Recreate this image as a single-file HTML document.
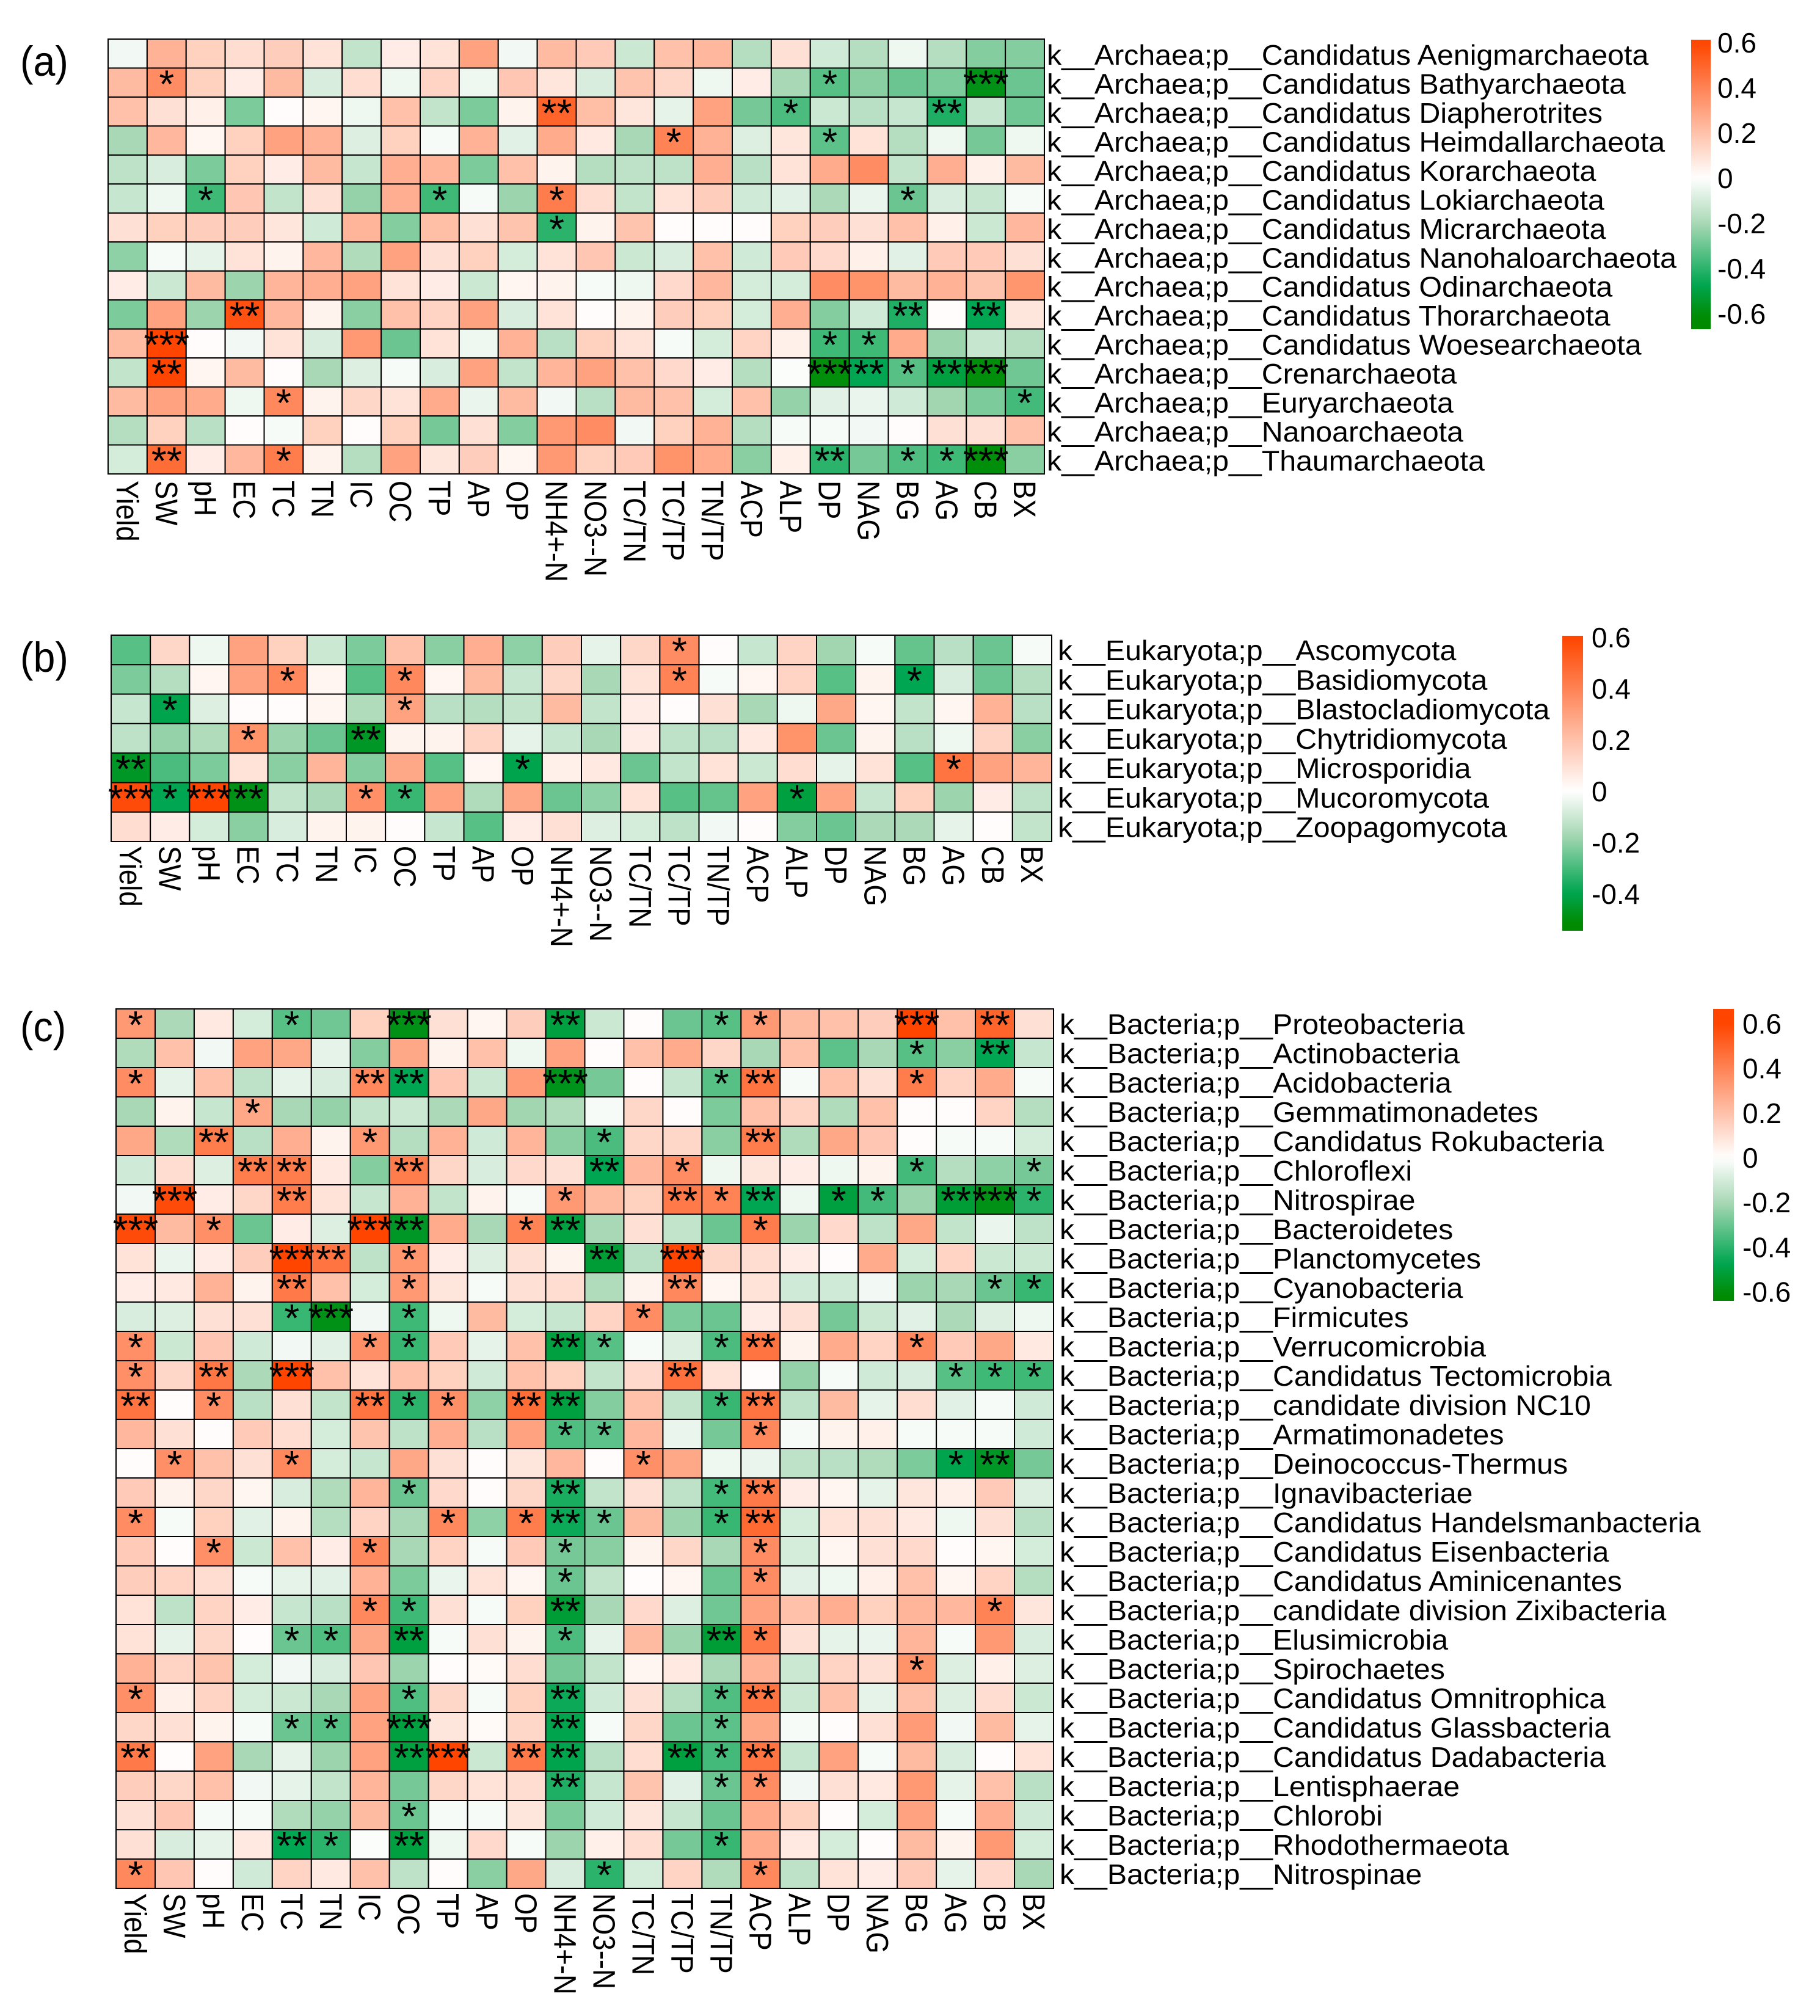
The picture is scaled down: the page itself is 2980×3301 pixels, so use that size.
<!DOCTYPE html>
<html lang="en">
<head>
<meta charset="utf-8">
<title>Correlation heatmaps of Archaea, Eukaryota and Bacteria phyla with soil variables</title>
<style>
html,body{margin:0;padding:0;background:#fff;}
body{width:2980px;height:3301px;overflow:hidden;}
svg{display:block;}
text{font-family:"Liberation Sans",Arial,sans-serif;fill:#000;}
</style>
</head>
<body>
<svg id="chart" xmlns="http://www.w3.org/2000/svg" width="2980" height="3301" viewBox="0 0 2980 3301">
<rect x="0" y="0" width="2980" height="3301" fill="#fff"/>
<text transform="translate(33,124) scale(1.04,1.1)" font-size="62">(a)</text>
<text transform="translate(33,1100) scale(1.04,1.1)" font-size="62">(b)</text>
<text transform="translate(33,1705) scale(1.04,1.1)" font-size="62">(c)</text>
</svg>
<script>
const variables = ["Yield","SW","pH","EC","TC","TN","IC","OC","TP","AP","OP","NH4+-N","NO3--N","TC/TN","TC/TP","TN/TP","ACP","ALP","DP","NAG","BG","AG","CB","BX"];

const archaeaTaxa = [
"k__Archaea;p__Candidatus Aenigmarchaeota","k__Archaea;p__Candidatus Bathyarchaeota","k__Archaea;p__Candidatus Diapherotrites","k__Archaea;p__Candidatus Heimdallarchaeota","k__Archaea;p__Candidatus Korarchaeota","k__Archaea;p__Candidatus Lokiarchaeota","k__Archaea;p__Candidatus Micrarchaeota","k__Archaea;p__Candidatus Nanohaloarchaeota","k__Archaea;p__Candidatus Odinarchaeota","k__Archaea;p__Candidatus Thorarchaeota","k__Archaea;p__Candidatus Woesearchaeota","k__Archaea;p__Crenarchaeota","k__Archaea;p__Euryarchaeota","k__Archaea;p__Nanoarchaeota","k__Archaea;p__Thaumarchaeota"];

const archaeaValues = [
[-.03,.25,.15,.11,.16,.09,-.14,.06,.09,.3,-.03,.22,.17,-.12,.2,.23,-.17,.1,-.11,-.17,-.04,-.17,-.26,-.26],
[.22,.37,.15,.06,.22,-.09,.11,-.04,.14,-.04,.18,.08,-.09,.19,.13,-.04,.06,-.2,-.33,-.25,-.3,-.27,-.58,-.3],
[.2,.1,.05,-.27,.01,.03,-.04,.2,-.14,-.27,.04,.5,.21,.08,-.06,.3,-.28,-.35,-.12,-.16,-.13,-.42,-.13,-.29],
[-.2,.23,.03,.15,.3,.25,-.08,.15,-.02,.25,-.07,.27,.07,-.2,.4,.25,-.08,.08,-.32,.09,-.17,-.04,-.28,-.04],
[-.15,-.09,-.27,.15,.06,.22,-.13,.26,.24,-.27,.2,.04,-.17,-.15,-.15,.26,-.16,.09,.27,.37,-.14,.26,.05,.22],
[-.13,-.04,-.37,.18,-.14,.1,-.23,.26,-.37,-.02,-.22,.42,.11,-.14,.09,.16,-.11,-.07,-.19,-.05,-.3,-.09,-.13,-.02],
[.1,.15,.16,.16,.08,-.11,.24,-.26,.21,.1,.19,-.4,.04,.19,.01,.01,.01,.15,.16,.1,.2,.05,-.12,.23],
[-.24,-.02,-.06,.09,.04,.23,-.18,.3,.1,.15,-.1,.09,.18,-.12,-.09,.2,-.11,.17,.12,.05,-.07,.17,.17,.1],
[.06,-.12,.22,-.22,.24,.26,.3,.09,.06,-.12,.03,.04,-.02,-.04,.12,.23,-.1,-.1,.37,.35,.22,.25,.19,.34],
[-.27,.3,-.22,.56,.23,.04,-.25,.2,.14,.3,-.09,.09,.01,.04,.16,.15,-.1,.26,-.26,-.11,-.42,.01,-.47,.08],
[.22,.6,.01,-.03,.09,-.09,.33,-.3,.09,-.04,.25,-.16,.15,.09,-.02,-.1,.14,.05,-.37,-.37,.27,-.22,-.13,-.17],
[-.14,.6,.03,.22,.01,-.2,-.08,-.02,-.09,.3,-.14,.24,.3,.2,.12,.06,-.17,-.01,-.6,-.47,-.33,-.5,-.6,-.29],
[.22,.3,.27,-.04,.38,.04,.13,.09,.27,-.05,.22,-.03,-.16,.22,.2,-.1,.2,-.23,-.07,-.05,-.11,-.21,-.27,-.36],
[-.17,.15,-.16,.01,-.02,.15,.01,.15,-.28,.1,-.26,.33,.37,-.03,.15,.25,-.17,-.02,-.02,-.03,.01,.1,.1,.2],
[-.1,.47,.06,.23,.42,.04,-.17,.3,.08,.16,.03,.33,.15,.17,.35,.27,-.25,.05,-.4,-.28,-.34,-.37,-.6,-.25]];

const archaeaStars = [[1,1,1],[1,18,1],[1,22,3],[2,11,2],[2,17,1],[2,21,2],[3,14,1],[3,18,1],[5,2,1],[5,8,1],[5,11,1],[5,20,1],[6,11,1],[9,3,2],[9,20,2],[9,22,2],[10,1,3],[10,18,1],[10,19,1],[11,1,2],[11,18,3],[11,19,2],[11,20,1],[11,21,2],[11,22,3],[12,4,1],[12,23,1],[14,1,2],[14,4,1],[14,18,2],[14,20,1],[14,21,1],[14,22,3]];

const eukaryotaTaxa = ["k__Eukaryota;p__Ascomycota","k__Eukaryota;p__Basidiomycota","k__Eukaryota;p__Blastocladiomycota","k__Eukaryota;p__Chytridiomycota","k__Eukaryota;p__Microsporidia","k__Eukaryota;p__Mucoromycota","k__Eukaryota;p__Zoopagomycota"];

const eukaryotaValues = [
[-.33,.13,-.04,.3,.15,-.12,-.27,.2,-.25,.26,-.24,.16,-.06,.13,.37,.01,-.13,.14,-.21,-.02,-.31,-.16,-.3,-.02],
[-.27,-.17,.03,.3,.38,.03,-.33,.38,.03,.22,-.13,.13,-.2,.09,.4,-.02,.03,.14,-.33,.04,-.47,-.09,-.3,-.17],
[-.13,-.48,-.08,.01,.01,.03,-.18,.3,-.16,-.17,-.14,.22,-.14,.06,.01,.1,-.2,-.04,.28,.03,-.14,.03,.25,-.16],
[-.15,-.23,-.18,.35,-.22,-.3,-.55,.04,.04,.14,-.06,-.13,-.2,.06,-.15,-.16,.07,.35,-.3,.04,-.16,-.04,.14,-.25],
[-.55,-.35,-.27,.09,-.25,.24,-.26,.28,-.33,.03,-.48,.05,.07,-.3,-.14,.09,-.12,.11,-.06,.09,-.33,.45,.3,.24],
[.58,-.47,.6,-.58,-.14,-.19,.36,-.38,.3,-.18,.28,-.3,-.24,.09,-.33,-.31,.3,-.5,.29,-.13,.15,-.22,.06,-.15],
[.11,.06,-.1,-.25,-.09,.04,.04,.01,-.13,-.33,.06,.1,-.08,-.1,-.15,-.03,.01,-.26,-.3,-.19,-.19,-.06,.01,-.14]];

const eukaryotaStars = [[0,14,1],[1,4,1],[1,7,1],[1,14,1],[1,20,1],[2,1,1],[2,7,1],[3,3,1],[3,6,2],[4,0,2],[4,10,1],[4,21,1],[5,0,3],[5,1,1],[5,2,3],[5,3,2],[5,6,1],[5,7,1],[5,17,1]];

const bacteriaTaxa = [
"k__Bacteria;p__Proteobacteria","k__Bacteria;p__Actinobacteria","k__Bacteria;p__Acidobacteria","k__Bacteria;p__Gemmatimonadetes","k__Bacteria;p__Candidatus Rokubacteria","k__Bacteria;p__Chloroflexi","k__Bacteria;p__Nitrospirae","k__Bacteria;p__Bacteroidetes","k__Bacteria;p__Planctomycetes","k__Bacteria;p__Cyanobacteria","k__Bacteria;p__Firmicutes","k__Bacteria;p__Verrucomicrobia","k__Bacteria;p__Candidatus Tectomicrobia","k__Bacteria;p__candidate division NC10","k__Bacteria;p__Armatimonadetes","k__Bacteria;p__Deinococcus-Thermus","k__Bacteria;p__Ignavibacteriae","k__Bacteria;p__Candidatus Handelsmanbacteria","k__Bacteria;p__Candidatus Eisenbacteria","k__Bacteria;p__Candidatus Aminicenantes","k__Bacteria;p__candidate division Zixibacteria","k__Bacteria;p__Elusimicrobia","k__Bacteria;p__Spirochaetes","k__Bacteria;p__Candidatus Omnitrophica","k__Bacteria;p__Candidatus Glassbacteria","k__Bacteria;p__Candidatus Dadabacteria","k__Bacteria;p__Lentisphaerae","k__Bacteria;p__Chlorobi","k__Bacteria;p__Rhodothermaeota","k__Bacteria;p__Nitrospinae"];

const bacteriaValues = [
[.33,-.19,.07,-.1,-.33,-.29,.15,-.58,.1,.03,.16,-.5,-.12,.01,-.3,-.33,.33,.22,.2,.16,.6,.2,.5,.1],
[-.18,.2,-.03,.3,.28,-.06,-.26,.28,.04,.2,-.04,.3,.01,.2,.27,.13,-.2,.2,-.32,-.2,-.33,-.25,-.47,-.13],
[.37,-.06,.2,-.15,-.06,-.09,.38,-.47,.18,-.12,.32,-.57,-.28,.01,-.13,-.33,.45,-.02,.2,.1,.42,.14,.27,-.02],
[-.2,.04,-.13,.28,-.2,-.23,-.14,-.12,-.19,.28,-.21,-.18,-.02,.13,.01,-.27,.2,.14,-.18,.2,.01,.01,.14,-.17],
[.28,-.18,.42,-.16,.26,.04,.33,-.17,.25,-.11,.24,-.25,-.35,.13,.13,-.25,.42,-.18,.28,.18,.01,-.02,-.02,-.1],
[-.11,.11,-.08,.42,.42,.07,-.26,.42,.13,-.09,.12,.1,-.47,.23,.37,-.04,.08,.06,-.04,.04,-.36,-.17,-.24,-.28],
[-.03,.58,.06,.13,.42,.09,-.13,.25,-.14,.04,-.02,.33,.22,.15,.43,.4,-.47,-.04,-.5,-.36,-.22,-.52,-.58,-.4],
[.58,.22,.36,-.3,.06,-.08,.6,-.55,.27,-.2,.4,-.5,-.2,.1,-.14,-.3,.42,-.22,.12,-.15,.28,-.14,-.05,-.15],
[.09,-.05,.06,.16,.6,.45,-.15,.34,.06,-.08,.1,.04,-.52,-.16,.6,.13,.11,.06,.01,.27,-.1,.14,-.12,-.12],
[.06,.07,.25,.04,.43,.2,-.1,.33,.08,-.02,.1,.11,-.18,.04,.38,.03,.09,-.11,-.11,-.03,-.22,-.2,-.3,-.38],
[-.09,-.08,.1,.1,-.38,-.58,-.03,-.37,-.04,.22,-.1,-.13,.14,.37,-.27,-.3,.06,.1,-.28,-.12,-.07,-.19,-.08,-.04],
[.36,-.12,.18,-.11,-.03,-.07,.36,-.38,.17,-.06,.2,-.5,-.33,-.02,-.08,-.35,.45,.04,.27,.14,.38,.17,.28,.07],
[.36,.13,.44,-.19,.6,.2,.09,.2,.15,-.11,.2,.15,-.14,.12,.46,.09,.01,-.23,-.02,-.11,-.09,-.33,-.37,-.37],
[.45,.01,.37,-.16,.1,-.14,.45,-.4,.36,-.24,.47,-.5,-.26,.2,-.14,-.38,.45,-.15,.22,-.06,.11,-.07,-.02,-.11],
[.23,.1,.01,.17,.11,-.1,.19,-.15,.26,-.16,.3,-.34,-.32,.23,-.05,-.28,.38,-.02,.04,.05,-.02,-.02,-.02,-.11],
[.01,.36,.2,.1,.38,-.1,-.13,.28,.1,.01,.08,.23,.01,.36,.28,-.04,-.05,-.15,-.16,-.18,-.27,-.48,-.55,-.28],
[.17,.04,.13,.03,-.09,-.18,.24,-.3,.12,.01,.13,-.43,-.14,.1,-.15,-.36,.43,.06,.03,-.06,.08,.05,.17,-.08],
[.37,-.02,.15,-.07,.04,-.17,.14,-.2,.38,-.24,.42,-.45,-.3,.22,-.22,-.38,.48,-.1,.09,.1,.07,-.04,.1,-.16],
[.17,.01,.36,-.12,.2,.06,.38,-.2,.14,-.02,.17,-.28,-.25,.04,.13,-.2,.37,-.1,.03,.1,.12,.01,.03,-.1],
[.16,.14,.11,-.02,-.06,-.07,.25,-.27,-.05,.09,.03,-.3,-.14,.01,.03,-.3,.37,-.07,-.04,.05,.2,.03,.14,-.17],
[.09,-.15,.14,.06,-.13,-.16,.38,-.37,.1,-.02,.15,-.52,-.2,.12,-.08,-.29,.3,.2,.26,.15,.24,.23,.4,.08],
[.09,-.06,.13,.01,-.3,-.34,.28,-.5,-.02,.1,.04,-.35,-.06,.22,-.22,-.52,.43,.1,-.06,-.05,.24,-.02,.33,-.09],
[.25,.14,.19,-.1,-.03,-.09,.18,-.22,.01,.02,.11,-.28,-.14,.03,.07,-.2,.25,-.12,.14,.1,.35,-.08,.05,-.08],
[.36,.05,.14,-.1,-.12,-.2,.3,-.34,.13,-.02,.15,-.45,-.11,.1,-.17,-.34,.45,-.12,.2,-.06,.2,-.08,.11,-.12],
[.13,.1,.04,-.02,-.3,-.33,.3,-.5,.08,.02,.13,-.48,-.02,.13,-.3,-.32,.28,-.02,.01,.1,.32,-.03,.22,-.06],
[.43,.01,.3,-.2,-.06,-.22,.3,-.5,.6,-.12,.43,-.48,-.16,.11,-.5,-.36,.45,-.13,.3,-.02,.22,-.09,.01,.09],
[.16,.13,.2,-.03,-.06,-.14,.24,-.28,.13,.09,.11,-.42,-.13,.19,-.07,-.3,.37,-.03,.1,.07,.33,-.06,.2,-.16],
[.1,.18,-.02,-.02,-.18,-.23,.22,-.3,-.02,-.02,.08,-.27,-.11,.08,-.13,-.3,.27,.15,.01,-.1,.3,-.02,.26,-.11],
[.1,-.09,-.06,.07,-.47,-.4,-.01,-.5,-.04,.12,-.02,-.22,.05,.11,-.28,-.38,.27,.07,-.1,.01,.22,.04,.33,-.1],
[.38,.18,.01,-.11,.14,.07,.2,-.15,.01,-.25,.28,-.09,-.4,-.1,.14,-.18,.38,-.15,.09,.06,.17,-.06,.12,-.2]];

const bacteriaStars = [[0,0,1],[0,4,1],[0,7,3],[0,11,2],[0,15,1],[0,16,1],[0,20,3],[0,22,2],[1,20,1],[1,22,2],[2,0,1],[2,6,2],[2,7,2],[2,11,3],[2,15,1],[2,16,2],[2,20,1],[3,3,1],[4,2,2],[4,6,1],[4,12,1],[4,16,2],[5,3,2],[5,4,2],[5,7,2],[5,12,2],[5,14,1],[5,20,1],[5,23,1],[6,1,3],[6,4,2],[6,11,1],[6,14,2],[6,15,1],[6,16,2],[6,18,1],[6,19,1],[6,21,2],[6,22,3],[6,23,1],[7,0,3],[7,2,1],[7,6,3],[7,7,2],[7,10,1],[7,11,2],[7,16,1],[8,4,3],[8,5,2],[8,7,1],[8,12,2],[8,14,3],[9,4,2],[9,7,1],[9,14,2],[9,22,1],[9,23,1],[10,4,1],[10,5,3],[10,7,1],[10,13,1],[11,0,1],[11,6,1],[11,7,1],[11,11,2],[11,12,1],[11,15,1],[11,16,2],[11,20,1],[12,0,1],[12,2,2],[12,4,3],[12,14,2],[12,21,1],[12,22,1],[12,23,1],[13,0,2],[13,2,1],[13,6,2],[13,7,1],[13,8,1],[13,10,2],[13,11,2],[13,15,1],[13,16,2],[14,11,1],[14,12,1],[14,16,1],[15,1,1],[15,4,1],[15,13,1],[15,21,1],[15,22,2],[16,7,1],[16,11,2],[16,15,1],[16,16,2],[17,0,1],[17,8,1],[17,10,1],[17,11,2],[17,12,1],[17,15,1],[17,16,2],[18,2,1],[18,6,1],[18,11,1],[18,16,1],[19,11,1],[19,16,1],[20,6,1],[20,7,1],[20,11,2],[20,22,1],[21,4,1],[21,5,1],[21,7,2],[21,11,1],[21,15,2],[21,16,1],[22,20,1],[23,0,1],[23,7,1],[23,11,2],[23,15,1],[23,16,2],[24,4,1],[24,5,1],[24,7,3],[24,11,2],[24,15,1],[25,0,2],[25,7,2],[25,8,3],[25,10,2],[25,11,2],[25,14,2],[25,15,1],[25,16,2],[26,11,2],[26,15,1],[26,16,1],[27,7,1],[28,4,2],[28,5,1],[28,7,2],[28,15,1],[29,0,1],[29,12,1],[29,16,1]];

const archaeaTicks = [0.6,0.4,0.2,0,-0.2,-0.4,-0.6];
const eukaryotaTicks = [0.6,0.4,0.2,0,-0.2,-0.4];
const bacteriaTicks = [0.6,0.4,0.2,0,-0.2,-0.4,-0.6];

const NS = "http://www.w3.org/2000/svg";
const svg = document.getElementById("chart");

function lerp(a, b, t) { return Math.round(a + (b - a) * t); }
function mix(c1, c2, t) {
  return "rgb(" + lerp(c1[0], c2[0], t) + "," + lerp(c1[1], c2[1], t) + "," + lerp(c1[2], c2[2], t) + ")";
}
function colorScale(v) {
  const white = [255,255,255], red = [255,69,0], pale = [168,216,181], green = [0,166,81], dark = [0,138,0];
  if (v >= 0) return mix(white, red, Math.min(v / 0.6, 1));
  if (v >= -0.2) return mix(white, pale, -v / 0.2);
  if (v >= -0.47) return mix(pale, green, (-v - 0.2) / 0.27);
  return mix(green, dark, Math.min((-v - 0.47) / 0.15, 1));
}
function make(tag, attrs, parent) {
  const el = document.createElementNS(NS, tag);
  for (const k in attrs) el.setAttribute(k, attrs[k]);
  parent.appendChild(el);
  return el;
}
function slug(s) { return s.toLowerCase().replace(/[^a-z0-9]+/g, "-").replace(/^-|-$/g, ""); }

function drawHeatmap(key, cfg, taxa, values, stars) {
  const g = make("g", {}, svg);
  
  
  const cw = (cfg.right - cfg.left) / variables.length;
  const rh = (cfg.bottom - cfg.top) / taxa.length;
  const xAt = c => cfg.left + c * cw;
  const yAt = r => cfg.top + r * rh;
  values.forEach((row, r) => {
    row.forEach((v, c) => {
      const cell = make("rect", {x: xAt(c), y: yAt(r), width: cw, height: rh, fill: colorScale(v), stroke: "#000", "stroke-width": 2}, g);
      
      
    });
  });
  stars.forEach(s => {
    const t = make("text", {x: xAt(s[1]) + cw / 2, y: yAt(s[0]) + cfg.starDy, "font-size": 64, "text-anchor": "middle"}, g);
    t.textContent = "*".repeat(s[2]);
    
    
  });
  taxa.forEach((name, r) => {
    const t = make("text", {transform: "translate(" + cfg.labelX + "," + (yAt(r) + cfg.labelDy) + ") scale(" + cfg.labelScale + ",1)", "font-size": 46}, g);
    t.textContent = name;
    
    
  });
  variables.forEach((name, c) => {
    const t = make("text", {transform: "translate(" + (xAt(c) + cw / 2 - 18) + "," + cfg.xLabelY + ") rotate(90) scale(0.97,1.08)", "font-size": 47}, g);
    t.textContent = name;
    
    
  });
}

function drawLegend(key, cfg, ticks) {
  const g = make("g", {}, svg);
  
  
  const yAt = v => cfg.zeroY - v * cfg.perUnit;
  const vAt = y => (cfg.zeroY - y) / cfg.perUnit;
  const defs = make("defs", {}, g);
  const grad = make("linearGradient", {id: "grad-" + key, x1: 0, y1: 0, x2: 0, y2: 1}, defs);
  for (let i = 0; i <= 40; i++) {
    const t = i / 40;
    const v = vAt(cfg.top + t * (cfg.bottom - cfg.top));
    make("stop", {offset: t, "stop-color": colorScale(v < 0 ? v * cfg.negStretch : v)}, grad);
  }
  const bar = make("rect", {x: cfg.x, y: cfg.top, width: cfg.w, height: cfg.bottom - cfg.top, fill: "url(#grad-" + key + ")"}, g);
  
  
  ticks.forEach(v => {
    const t = make("text", {x: cfg.textX, y: yAt(v) + 16, "font-size": 46}, g);
    t.textContent = String(v);
    
    
  });
}

drawHeatmap("archaea", {left:177, right:1710, top:64, bottom:776, labelX:1714, labelDy:42, labelScale:1.05, xLabelY:787, starDy:48}, archaeaTaxa, archaeaValues, archaeaStars);
drawHeatmap("eukaryota", {left:182, right:1722, top:1040, bottom:1378, labelX:1732, labelDy:41, labelScale:1.05, xLabelY:1385, starDy:48}, eukaryotaTaxa, eukaryotaValues, eukaryotaStars);
drawHeatmap("bacteria", {left:190, right:1725, top:1652, bottom:3092, labelX:1735, labelDy:41, labelScale:1.05, xLabelY:3100, starDy:48}, bacteriaTaxa, bacteriaValues, bacteriaStars);

drawLegend("archaea", {x:2769, w:32, top:65, bottom:539, zeroY:292, perUnit:370, textX:2812, negStretch:1}, archaeaTicks);
drawLegend("eukaryota", {x:2558, w:34, top:1041, bottom:1524, zeroY:1296, perUnit:420, textX:2606, negStretch:1.2}, eukaryotaTicks);
drawLegend("bacteria", {x:2805, w:34, top:1652, bottom:2130, zeroY:1896, perUnit:366, textX:2853, negStretch:1}, bacteriaTicks);
</script>
</body>
</html>
